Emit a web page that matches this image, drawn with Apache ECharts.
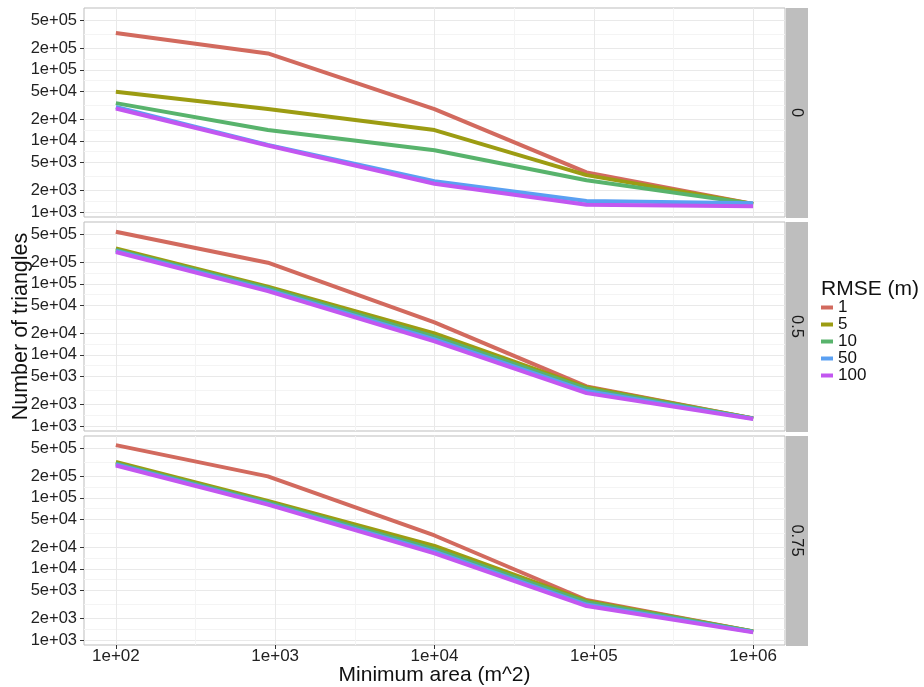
<!DOCTYPE html>
<html>
<head>
<meta charset="utf-8">
<script src="https://cdn.jsdelivr.net/npm/echarts@6/dist/echarts.min.js"></script>
<style>
html, body { margin: 0; padding: 0; background: #fff; }
#main { width: 924px; height: 687px; }
</style>
</head>
<body>
<div id="main"></div>
<script>
// x values (minimum area, m^2)
var areas = [100, 900, 10000, 90000, 1000000];
var rmseNames = ['1', '5', '10', '50', '100'];
var rmseColors = ['#D26A5E', '#9C9C12', '#58B36C', '#5AA0F2', '#C257F0'];
var facetNames = ['0', '0.5', '0.75'];

// number of triangles, one row per RMSE level
var facet0 = [
    [330000, 170000, 28000, 3600, 1300],
    [49000, 28000, 14200, 3300, 1300],
    [34000, 14200, 7400, 2800, 1300],
    [30000, 8800, 2700, 1430, 1330],
    [28500, 8600, 2500, 1260, 1200]
];
var facet05 = [
    [540000, 198000, 28700, 3600, 1280],
    [315000, 91000, 20000, 3500, 1280],
    [300000, 87000, 18000, 3350, 1280],
    [290000, 82000, 16500, 3100, 1270],
    [280000, 79000, 15500, 2900, 1250]
];
var facet075 = [
    [550000, 200000, 29500, 3650, 1320],
    [320000, 90000, 21000, 3550, 1320],
    [305000, 86000, 19000, 3400, 1320],
    [295000, 82000, 17500, 3150, 1300],
    [285000, 80000, 16500, 3000, 1280]
];
var facetData = [facet0, facet05, facet075];

var xTicks = [1e2, 1e3, 1e4, 1e5, 1e6];
var yTicks = [1e3, 2e3, 5e3, 1e4, 2e4, 5e4, 1e5, 2e5, 5e5];

function midpoints(t) {
    var out = [];
    for (var i = 0; i < t.length - 1; i++) out.push(Math.sqrt(t[i] * t[i + 1]));
    return out;
}
var xMinor = midpoints(xTicks);
var yMinor = midpoints(yTicks);

function sci(v) {
    var e = Math.floor(Math.log10(v) + 1e-9);
    var m = Math.round(v / Math.pow(10, e));
    return m + 'e+' + (e < 10 ? '0' : '') + e;
}

var font = 'Liberation Sans, Arial, sans-serif';
var gridTop = [8, 222, 436];
var gridH = 209;
var xMin = 63.1, xMax = 1584893;
var yMin = 850, yMax = 740000;

var grids = [], xAxes = [], yAxes = [], series = [], graphics = [];

for (var f = 0; f < 3; f++) {
    var bottom = f === 2;
    grids.push({
        left: 84, top: gridTop[f], width: 701, height: gridH,
        show: true, backgroundColor: '#fff', borderColor: '#BDBDBD', borderWidth: 1,
        containLabel: false, outerBoundsMode: 'none'
    });
    xAxes.push({
        type: 'log', gridIndex: f, min: xMin, max: xMax,
        axisLine: { show: false },
        axisTick: { show: bottom, length: 4, customValues: xTicks, lineStyle: { color: '#333' } },
        axisLabel: {
            show: bottom, customValues: xTicks, formatter: sci, margin: 3,
            fontSize: 17, color: '#222', fontFamily: font
        },
        splitLine: { show: true, lineStyle: { color: '#E9E9E9', width: 1 } },
        minorTick: { show: false },
        name: bottom ? 'Minimum area (m^2)' : '',
        nameLocation: 'middle', nameGap: 20, nameMoveOverlap: false,
        nameTextStyle: { fontSize: 21, color: '#111', fontFamily: font }
    });
    xAxes.push({
        type: 'log', gridIndex: f, min: xMin, max: xMax,
        axisLine: { show: false },
        axisTick: { show: false, customValues: xMinor },
        axisLabel: { show: false, customValues: xMinor },
        splitLine: { show: true, lineStyle: { color: '#F4F4F4', width: 1 } }
    });
    yAxes.push({
        type: 'log', gridIndex: f, min: yMin, max: yMax, position: 'left',
        axisLine: { show: false },
        axisTick: { show: true, length: 4, customValues: yTicks, lineStyle: { color: '#333' } },
        axisLabel: {
            customValues: yTicks, formatter: sci, margin: 7,
            fontSize: 16.5, color: '#222', fontFamily: font
        },
        splitLine: { show: true, lineStyle: { color: '#E9E9E9', width: 1 } },
        name: f === 1 ? 'Number of triangles' : '',
        nameLocation: 'middle', nameGap: 52, nameMoveOverlap: false,
        nameTextStyle: { fontSize: 21.5, color: '#111', fontFamily: font }
    });
    yAxes.push({
        type: 'log', gridIndex: f, min: yMin, max: yMax, position: 'left',
        axisLine: { show: false },
        axisTick: { show: false, customValues: yMinor },
        axisLabel: { show: false, customValues: yMinor },
        splitLine: { show: true, lineStyle: { color: '#F4F4F4', width: 1 } }
    });

    for (var k = 0; k < rmseNames.length; k++) {
        var pts = [];
        for (var i = 0; i < areas.length; i++) pts.push([areas[i], facetData[f][k][i]]);
        series.push({
            type: 'line', name: rmseNames[k],
            xAxisIndex: f * 2, yAxisIndex: f * 2,
            data: pts, showSymbol: false, symbol: 'none',
            lineStyle: { width: 4, color: rmseColors[k] },
            itemStyle: { color: rmseColors[k] },
            emphasis: { disabled: true }
        });
    }

    // facet strip on the right
    graphics.push({
        type: 'rect',
        shape: { x: 786, y: gridTop[f], width: 22, height: gridH + 1 },
        style: { fill: '#BEBEBE' }
    });
    graphics.push({
        type: 'text', x: 797, y: gridTop[f] + gridH / 2, rotation: -Math.PI / 2,
        style: {
            text: facetNames[f], fill: '#1a1a1a', fontSize: 16.5, fontFamily: font,
            align: 'center', verticalAlign: 'middle',
            textAlign: 'center', textVerticalAlign: 'middle'
        }
    });
}

var chart = echarts.init(document.getElementById('main'));
chart.setOption({
    animation: false,
    backgroundColor: '#fff',
    title: {
        text: 'RMSE (m)', left: 821, top: 279, padding: 0,
        textStyle: { fontSize: 21, fontWeight: 'normal', color: '#111', fontFamily: font }
    },
    legend: {
        orient: 'vertical', left: 821, top: 299, padding: 0,
        icon: 'rect', itemWidth: 12, itemHeight: 4, itemGap: 0,
        data: rmseNames,
        selectedMode: false,
        textStyle: { fontSize: 17, lineHeight: 15, color: '#111', fontFamily: font }
    },
    grid: grids,
    xAxis: xAxes,
    yAxis: yAxes,
    series: series,
    graphic: graphics
});
</script>
</body>
</html>
